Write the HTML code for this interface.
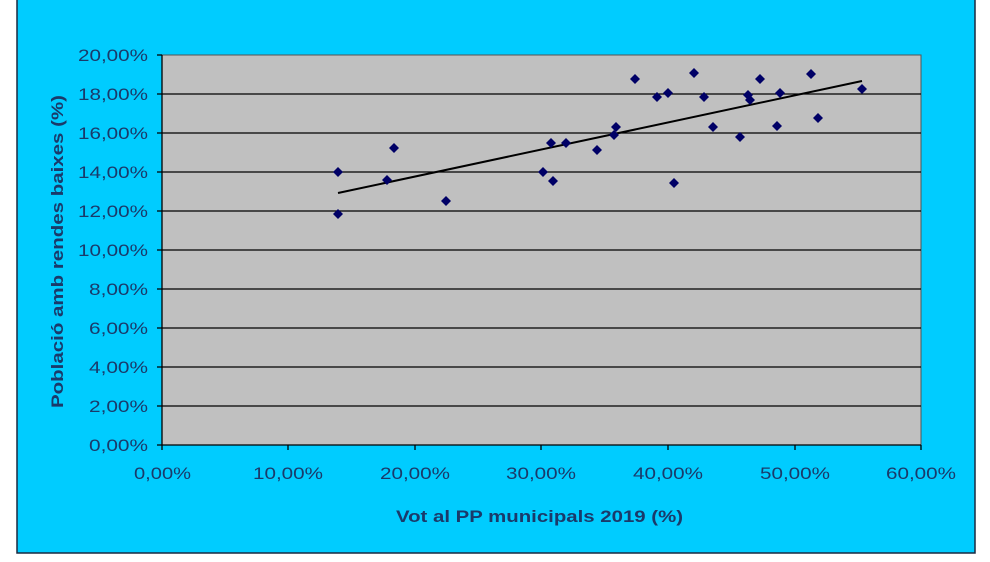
<!DOCTYPE html>
<html><head><style>
body{margin:0;width:990px;height:557px;background:#fff;overflow:hidden}
</style></head><body>
<svg width="990" height="557" xmlns="http://www.w3.org/2000/svg" font-family="Liberation Sans, sans-serif">
<rect x="17" y="-2" width="958" height="555" fill="#00ccff" stroke="#1a2a40" stroke-width="1.5"/>
<rect x="162" y="55" width="759" height="390" fill="#c0c0c0" stroke="#555" stroke-width="1"/>
<g stroke="#000" stroke-width="1.3">
<line x1="157" y1="94" x2="921" y2="94"/><line x1="157" y1="133" x2="921" y2="133"/>
<line x1="157" y1="172" x2="921" y2="172"/><line x1="157" y1="211" x2="921" y2="211"/>
<line x1="157" y1="250" x2="921" y2="250"/><line x1="157" y1="289" x2="921" y2="289"/>
<line x1="157" y1="328" x2="921" y2="328"/><line x1="157" y1="367" x2="921" y2="367"/>
<line x1="157" y1="406" x2="921" y2="406"/><line x1="157" y1="445" x2="921" y2="445"/>
<line x1="157" y1="55" x2="162" y2="55"/><line x1="162" y1="55" x2="162" y2="445"/>
<line x1="288" y1="445" x2="288" y2="450"/><line x1="415" y1="445" x2="415" y2="450"/>
<line x1="541" y1="445" x2="541" y2="450"/><line x1="668" y1="445" x2="668" y2="450"/>
<line x1="795" y1="445" x2="795" y2="450"/><line x1="921" y1="445" x2="921" y2="450"/>
<line x1="162" y1="445" x2="162" y2="450"/>
</g>
<g fill="#1a3a6a" font-size="17" text-anchor="end">
<text x="148" y="61" textLength="70" lengthAdjust="spacingAndGlyphs">20,00%</text>
<text x="148" y="100" textLength="70" lengthAdjust="spacingAndGlyphs">18,00%</text>
<text x="148" y="139" textLength="70" lengthAdjust="spacingAndGlyphs">16,00%</text>
<text x="148" y="178" textLength="70" lengthAdjust="spacingAndGlyphs">14,00%</text>
<text x="148" y="217" textLength="70" lengthAdjust="spacingAndGlyphs">12,00%</text>
<text x="148" y="256" textLength="70" lengthAdjust="spacingAndGlyphs">10,00%</text>
<text x="148" y="295" textLength="59" lengthAdjust="spacingAndGlyphs">8,00%</text>
<text x="148" y="334" textLength="59" lengthAdjust="spacingAndGlyphs">6,00%</text>
<text x="148" y="373" textLength="59" lengthAdjust="spacingAndGlyphs">4,00%</text>
<text x="148" y="412" textLength="59" lengthAdjust="spacingAndGlyphs">2,00%</text>
<text x="148" y="451" textLength="59" lengthAdjust="spacingAndGlyphs">0,00%</text>
</g>
<g fill="#1a3a6a" font-size="17">
<text x="134" y="479" textLength="57" lengthAdjust="spacingAndGlyphs">0,00%</text>
<text x="253" y="479" textLength="70" lengthAdjust="spacingAndGlyphs">10,00%</text>
<text x="380" y="479" textLength="70" lengthAdjust="spacingAndGlyphs">20,00%</text>
<text x="506" y="479" textLength="70" lengthAdjust="spacingAndGlyphs">30,00%</text>
<text x="633" y="479" textLength="70" lengthAdjust="spacingAndGlyphs">40,00%</text>
<text x="760" y="479" textLength="70" lengthAdjust="spacingAndGlyphs">50,00%</text>
<text x="886" y="479" textLength="70" lengthAdjust="spacingAndGlyphs">60,00%</text>
<text x="396" y="522" font-weight="bold" textLength="287" lengthAdjust="spacingAndGlyphs">Vot al PP municipals 2019 (%)</text>
<text transform="translate(63,408) rotate(-90)" font-weight="bold" textLength="313" lengthAdjust="spacingAndGlyphs">Població amb rendes baixes (%)</text>
</g>
<line x1="338" y1="193" x2="862" y2="81" stroke="#000" stroke-width="2"/>
<g fill="#000066">
<path id="d" d="M0,-5L5,0L0,5L-5,0Z" transform="translate(338,172)"/>
<use href="#d" transform="translate(0,42)"/><use href="#d" transform="translate(49,8)"/>
<use href="#d" transform="translate(56,-24)"/><use href="#d" transform="translate(108,29)"/>
<use href="#d" transform="translate(205,0)"/><use href="#d" transform="translate(213,-29)"/>
<use href="#d" transform="translate(215,9)"/><use href="#d" transform="translate(228,-29)"/>
<use href="#d" transform="translate(259,-22)"/><use href="#d" transform="translate(276,-37)"/>
<use href="#d" transform="translate(278,-45)"/><use href="#d" transform="translate(297,-93)"/>
<use href="#d" transform="translate(319,-75)"/><use href="#d" transform="translate(330,-79)"/>
<use href="#d" transform="translate(356,-99)"/><use href="#d" transform="translate(366,-75)"/>
<use href="#d" transform="translate(336,11)"/><use href="#d" transform="translate(375,-45)"/>
<use href="#d" transform="translate(402,-35)"/><use href="#d" transform="translate(410,-77)"/>
<use href="#d" transform="translate(412,-72)"/><use href="#d" transform="translate(422,-93)"/>
<use href="#d" transform="translate(439,-46)"/><use href="#d" transform="translate(442,-79)"/>
<use href="#d" transform="translate(473,-98)"/><use href="#d" transform="translate(480,-54)"/>
<use href="#d" transform="translate(524,-83)"/>
</g>
</svg>
</body></html>
